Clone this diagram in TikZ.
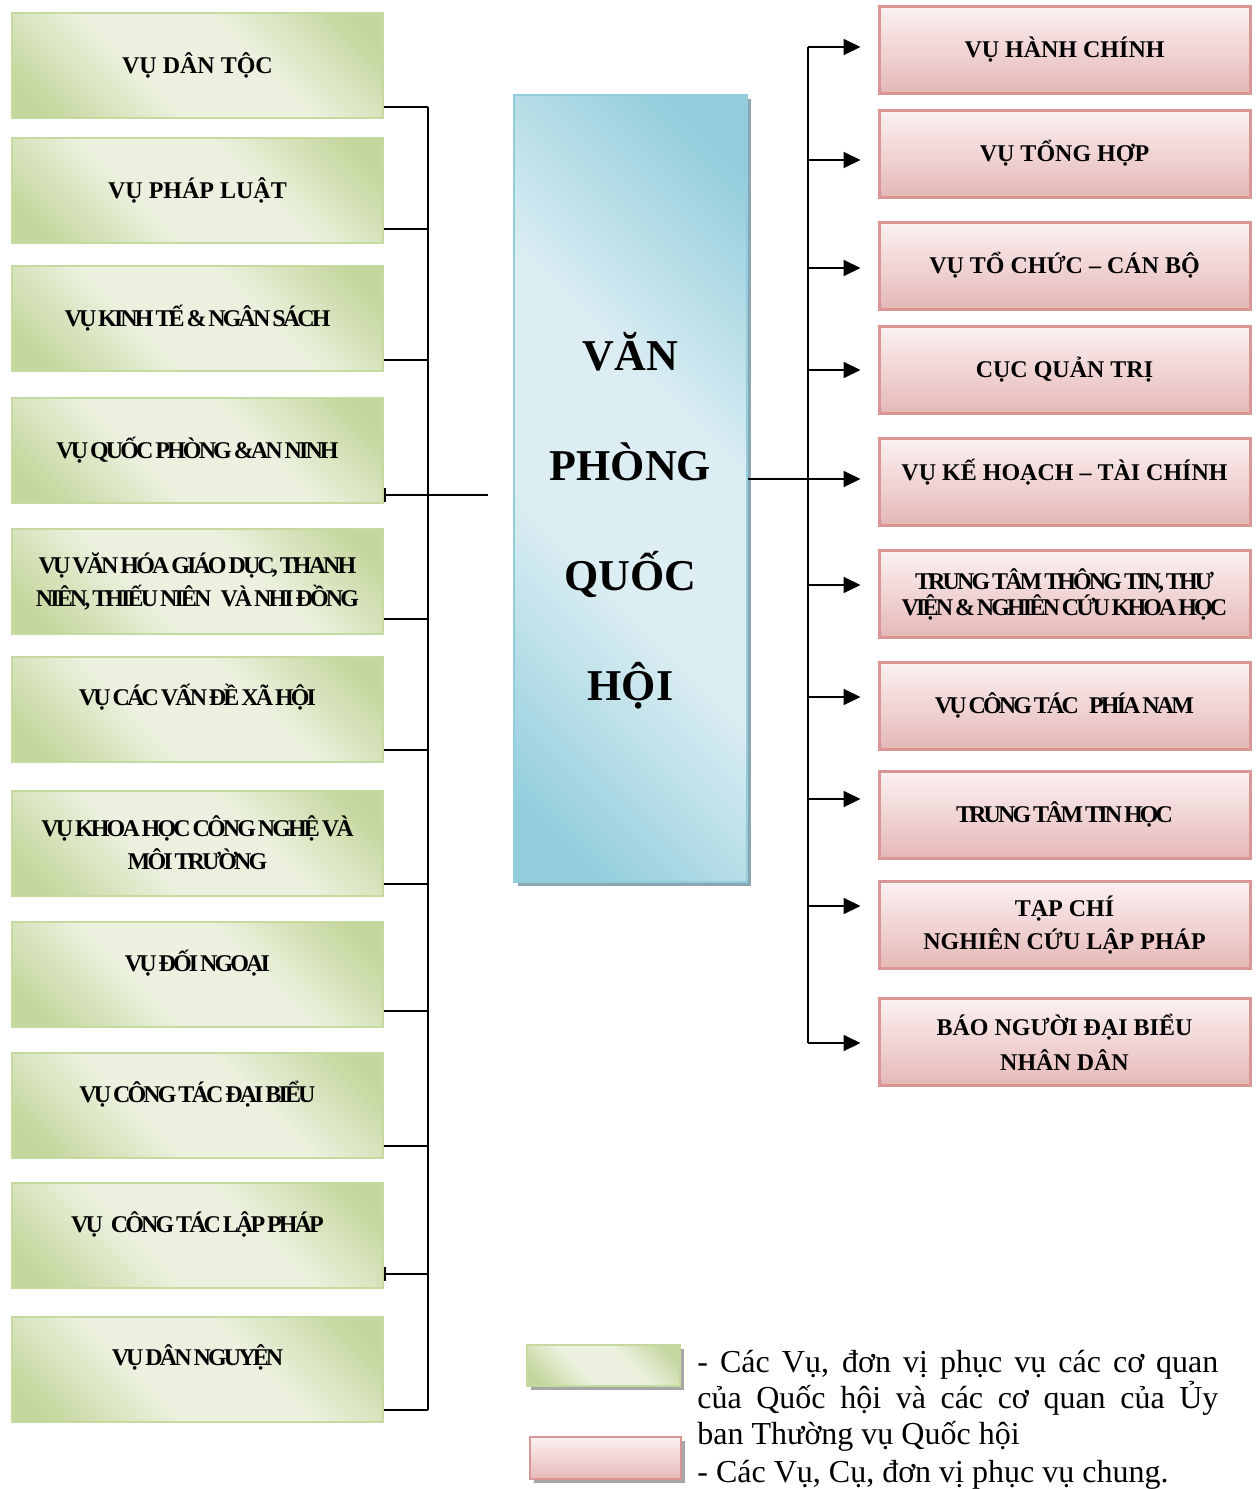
\documentclass[tikz,border=0pt]{standalone}
\usepackage{fontspec}
\setmainfont{Liberation Serif}
\usetikzlibrary{arrows.meta,shadows,calc}
\definecolor{gL}{HTML}{EBF1DE}
\definecolor{gD}{HTML}{C3D69B}
\definecolor{gBorder}{HTML}{C6D9A0}
\definecolor{pT}{HTML}{FCF1F1}
\definecolor{pB}{HTML}{E5B8B7}
\definecolor{pBorder}{HTML}{D99694}
\definecolor{bL}{HTML}{DCEEF3}
\definecolor{bD}{HTML}{92CDDC}
\definecolor{bBorder}{HTML}{93CDDD}
\definecolor{bShadow}{HTML}{8AA6B2}
\definecolor{gShadow}{HTML}{A6A6A6}
\pgfdeclarehorizontalshading{greenband}{100bp}{color(0bp)=(gD); color(20bp)=(gD); color(40bp)=(gL); color(60bp)=(gL); color(80bp)=(gD); color(100bp)=(gD)}
\pgfdeclarehorizontalshading{blueband}{100bp}{color(0bp)=(bD); color(20bp)=(bD); color(42bp)=(bL); color(58bp)=(bL); color(80bp)=(bD); color(100bp)=(bD)}
\newcommand\cnd{\addfontfeature{LetterSpace=-12}\spaceskip=0.08em plus 0.04em\relax}
\begin{document}
\begin{tikzpicture}[x=0.5pt,y=-0.5pt,
  boxfont/.style={font=\bfseries\fontsize{12}{16.5}\selectfont},
  cboxfont/.style={font=\bfseries\fontsize{12}{16.5}\selectfont\cnd},
  gbox/.style={draw=gBorder, line width=1pt, shading=greenband, shading angle=45,
    minimum width=185.5pt, minimum height=52.5pt, inner sep=0pt, align=center, boxfont},
  pbox/.style={draw=pBorder, line width=1.5pt, top color=pT, bottom color=pB,
    minimum width=185.5pt, minimum height=43.5pt, inner sep=0pt, align=center, boxfont},
  raised/.style={text depth=#1},
  conn/.style={draw=black, line width=1pt},
  arr/.style={conn, -{Triangle[length=8.5pt,width=8pt]}, shorten >=8.5pt},
  legtext/.style={anchor=base west, inner sep=0pt, font=\fontsize{16}{18}\selectfont}
]
\useasboundingbox (0,0) rectangle (1255,1489);

% left boxes
\node[gbox] (l1) at (197.5,65.5) {VỤ DÂN TỘC};
\node[gbox] (l2) at (197.5,190.5) {VỤ PHÁP LUẬT};
\node[gbox,cboxfont] (l3) at (197.5,318) {VỤ KINH TẾ \& NGÂN SÁCH};
\node[gbox,cboxfont] (l4) at (197.5,450) {VỤ QUỐC PHÒNG \&AN NINH};
\node[gbox,cboxfont] (l5) at (197.5,581) {VỤ VĂN HÓA GIÁO DỤC, THANH\\NIÊN, THIẾU NIÊN\hspace{0.3em} VÀ NHI ĐỒNG};
\node[gbox,cboxfont,raised=14pt] (l6) at (197.5,709) {VỤ CÁC VẤN ĐỀ XÃ HỘI};
\node[gbox,cboxfont] (l7) at (197.5,843) {VỤ KHOA HỌC CÔNG NGHỆ VÀ\\MÔI TRƯỜNG};
\node[gbox,cboxfont,raised=14pt] (l8) at (197.5,974.5) {VỤ ĐỐI NGOẠI};
\node[gbox,cboxfont,raised=13pt] (l9) at (197.5,1105) {VỤ CÔNG TÁC ĐẠI BIỂU};
\node[gbox,cboxfont,raised=13pt] (l10) at (197.5,1235.5) {VỤ\hspace{0.25em} CÔNG TÁC LẬP PHÁP};
\node[gbox,cboxfont,raised=14pt] (l11) at (197.5,1369.5) {VỤ DÂN NGUYỆN};

% center box
\node[draw=bBorder, line width=1pt, shading=blueband, shading angle=45,
  minimum width=116.5pt, minimum height=393.5pt, inner sep=0pt,
  drop shadow={shadow xshift=2pt, shadow yshift=-2pt, fill=bShadow, opacity=1}]
  (vp) at (630.5,488.5) {};
\node[font=\bfseries\fontsize{22}{55}\selectfont, align=center, inner sep=0pt]
  (vptext) at (630.5,521) {VĂN\\PHÒNG\\QUỐC\\HỘI};

% right boxes
\node[pbox] (r1) at (1064.5,49.5) {VỤ HÀNH CHÍNH};
\node[pbox] (r2) at (1064.5,153.5) {VỤ TỔNG HỢP};
\node[pbox] (r3) at (1064.5,265.5) {VỤ TỔ CHỨC – CÁN BỘ};
\node[pbox] (r4) at (1064.5,370) {CỤC QUẢN TRỊ};
\node[pbox,raised=12pt] (r5) at (1064.5,481.5) {VỤ KẾ HOẠCH – TÀI CHÍNH};
\node[pbox,cboxfont,font=\bfseries\fontsize{12}{13}\selectfont\cnd] (r6) at (1064.5,594) {TRUNG TÂM THÔNG TIN, THƯ\\VIỆN \& NGHIÊN CỨU KHOA HỌC};
\node[pbox,cboxfont] (r7) at (1064.5,705.5) {VỤ CÔNG TÁC\hspace{0.35em} PHÍA NAM};
\node[pbox,cboxfont] (r8) at (1064.5,814.5) {TRUNG TÂM TIN HỌC};
\node[pbox] (r9) at (1064.5,925) {TẠP CHÍ\\NGHIÊN CỨU LẬP PHÁP};
\node[pbox,font=\bfseries\fontsize{12}{17.5}\selectfont] (r10) at (1064.5,1042) {BÁO NGƯỜI ĐẠI BIỂU\\NHÂN DÂN};

% left connectors
\coordinate (LT) at (428,107);
\coordinate (LB) at (428,1410);
\draw[conn] (LT) -- (LB);
\foreach \i/\y in {1/107,2/229,3/360,5/619,6/750,7/884,8/1011,9/1146,11/1410}
  \draw[conn] (l\i.east |- 428,\y) -- (428,\y);
\coordinate (LC) at (488,495);
\draw[conn,{Bar[width=7pt]}-] (l4.east |- LC) -- (LC);
\draw[conn,{Bar[width=7pt]}-] (l10.east |- 428,1274) -- (428,1274);

% right connectors
\coordinate (RT) at (808,47);
\coordinate (RB) at (808,1043);
\draw[conn] (RT) -- (RB);
\foreach \i/\y in {1/47,2/160,3/268,4/370,6/585,7/697,8/799,9/906,10/1043}
  \draw[arr] (808,\y) -- (r\i.west |- 808,\y);
\draw[arr] (vp.east |- 808,479) -- (r5.west |- 808,479);

% legend
\node[draw=gBorder, line width=1pt, shading=greenband, shading angle=45,
  minimum width=76.5pt, minimum height=20.5pt, inner sep=0pt,
  drop shadow={shadow xshift=2pt, shadow yshift=-2pt, fill=gShadow, opacity=1}]
  (lg1) at (603.5,1365.5) {};
\node[draw=pBorder, line width=1pt, top color=pT, bottom color=pB,
  minimum width=75.5pt, minimum height=21pt, inner sep=0pt,
  drop shadow={shadow xshift=2pt, shadow yshift=-2pt, fill=gShadow, opacity=1}]
  (lg2) at (605,1458) {};
\node[legtext] (t1) at (697,1372) {\makebox[260.5pt][s]{- Các Vụ, đơn vị phục vụ các cơ quan}};
\node[legtext] (t2) at (697,1408) {\makebox[260.5pt][s]{của Quốc hội và các cơ quan của Ủy}};
\node[legtext] (t3) at (697,1444) {ban Thường vụ Quốc hội};
\node[legtext] (t4) at (697,1482) {- Các Vụ, Cụ, đơn vị phục vụ chung.};
\end{tikzpicture}
\end{document}
